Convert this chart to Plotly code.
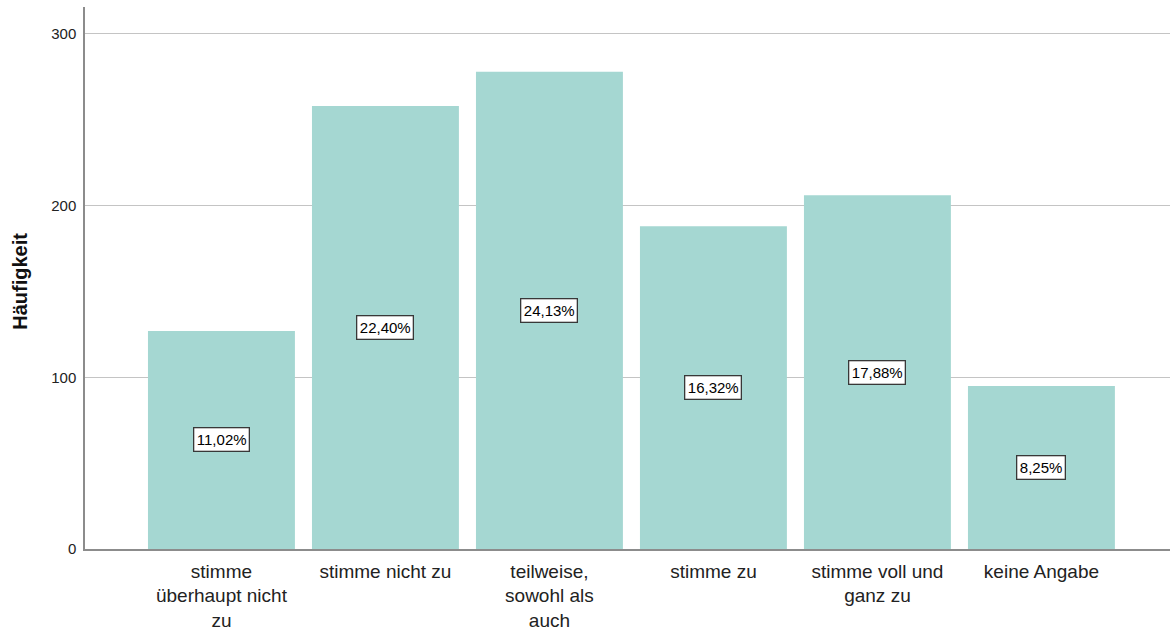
import plotly.graph_objects as go

categories = ["stimme<br>überhaupt nicht<br>zu", "stimme nicht zu", "teilweise,<br>sowohl als<br>auch",
              "stimme zu", "stimme voll und<br>ganz zu", "keine Angabe"]
counts = [127, 258, 278, 188, 206, 95]
percent_labels = ["11,02%", "22,40%", "24,13%", "16,32%", "17,88%", "8,25%"]
y_ticks = [0, 100, 200, 300]

FONT = "Liberation Sans, Arial, sans-serif"

fig = go.Figure()
fig.add_trace(go.Bar(
    x=list(range(len(categories))), y=counts,
    marker=dict(color="#a5d7d2", line=dict(width=0)),
    hoverinfo="y",
))

for i, (c, lab) in enumerate(zip(counts, percent_labels)):
    fig.add_annotation(x=i, y=c / 2, text=lab, showarrow=False,
                       font=dict(family=FONT, size=15, color="#000"),
                       bgcolor="white", bordercolor="#383838", borderwidth=1.3, borderpad=2.5)

fig.add_annotation(xref="paper", yref="paper", x=0, xshift=-65, y=0.493,
                   text="<b>Häufigkeit</b>", textangle=-90, showarrow=False,
                   xanchor="center", yanchor="middle",
                   font=dict(family=FONT, size=20, color="#111"))

fig.update_layout(
    width=1170, height=631,
    margin=dict(l=85, r=0, t=7, b=82, autoexpand=False),
    plot_bgcolor="white", paper_bgcolor="white",
    bargap=0.104,
    showlegend=False,
    font=dict(family=FONT, color="#222"),
)
fig.update_xaxes(
    range=[-0.832, 5.784], automargin=False,
    tickmode="array", tickvals=list(range(len(categories))), ticktext=categories,
    tickfont=dict(family=FONT, size=19, color="#222"),
    showline=True, linecolor="#8c8c8c", linewidth=1.5,
    showgrid=False, ticks="outside", ticklen=4, tickcolor="rgba(0,0,0,0)", zeroline=False,
)
fig.update_yaxes(
    range=[0, 315.7], automargin=False,
    tickmode="array", tickvals=y_ticks,
    tickfont=dict(family=FONT, size=15, color="#222"),
    showline=True, linecolor="#8c8c8c", linewidth=1.5,
    showgrid=True, gridcolor="#c4c4c4", gridwidth=1, zeroline=False,
    ticks="outside", ticklen=4, tickcolor="rgba(0,0,0,0)",
)

fig.write_html("out.html", config={"displayModeBar": False},
               post_script="document.body.style.margin='0';document.body.style.overflow='hidden';")
